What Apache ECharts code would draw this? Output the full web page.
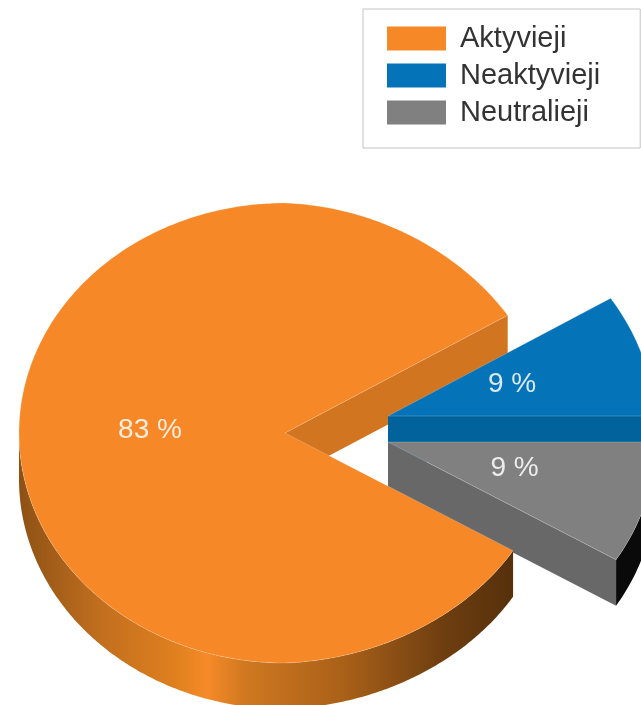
<!DOCTYPE html>
<html>
<head>
<meta charset="utf-8">
<style>
  html, body { margin: 0; padding: 0; background: #fff; }
  #chart { width: 641px; height: 705px; }
</style>
<script src="https://cdn.jsdelivr.net/npm/echarts@6/dist/echarts.min.js"></script>
</head>
<body>
<div id="chart"></div>
<script>
const categories = ['Aktyvieji', 'Neaktyvieji', 'Neutralieji'];
const values = [83, 9, 9];
const colors = ['#f68827', '#0573b8', '#808080'];
const cutColors = ['#d17520', '#02629b', '#686868'];

// pie layout (the pie is flattened to an ellipse)
const cx = 285, cy = 433, rx = 266, ry = 230, depth = 46;
const shift = [[0, 0], [103, -17], [103, 9]];
const labelShift = [[-2, -3], [-3, -1], [-2, -4]];

const total = values.reduce((a, b) => a + b, 0);
const sweeps = values.map(v => v / total * Math.PI * 2);
const slices = [];
let start = sweeps[2];
values.forEach((v, i) => {
    slices.push({ start: start, end: start + sweeps[i] });
    start += sweeps[i];
});

function point(i, t, r, down) {
    // small perspective skew on the right hand side of the pie
    const skew = Math.max(0, Math.cos(t)) * Math.sin(t) * 2 * r;
    return [
        cx + shift[i][0] + rx * r * Math.cos(t) + 3 * skew,
        cy + shift[i][1] + ry * r * Math.sin(t) - 5 * skew + (down || 0)
    ];
}

function arc(i, from, to, down) {
    const pts = [];
    const n = Math.max(2, Math.ceil(Math.abs(to - from) / 0.01));
    for (let k = 0; k <= n; k++) {
        pts.push(point(i, from + (to - from) * k / n, 1, down));
    }
    return pts;
}

function poly(points, fill, z2, extra) {
    return {
        type: 'polygon',
        z2: z2,
        shape: { points: points },
        style: Object.assign({ fill: fill }, extra || {})
    };
}

const edge = { stroke: 'rgba(255,255,255,0.25)', lineWidth: 0.8 };

const wallGradient = new echarts.graphic.LinearGradient(0, 0, 1, 0, [
    { offset: 0, color: '#8d5115' },
    { offset: 0.16, color: '#c06e1e' },
    { offset: 0.32, color: '#e0801f' },
    { offset: 0.38, color: '#f68a28' },
    { offset: 0.46, color: '#cf7820' },
    { offset: 0.66, color: '#a86018' },
    { offset: 0.86, color: '#6e3e10' },
    { offset: 1, color: '#56300b' }
]);

function renderSlice(params, api) {
    const i = params.seriesIndex;
    const s = slices[i];
    const apex = point(i, 0, 0);
    const apexDown = point(i, 0, 0, depth);
    const endTop = point(i, s.end, 1);
    const endDown = point(i, s.end, 1, depth);
    const top = [apex].concat(arc(i, s.start, s.end));
    const children = [];

    // draw order: orange cut face, blue, gray, orange body
    if (i === 0) {
        children.push(poly([apex, endTop, endDown, apexDown], cutColors[i], 1));
        children.push(poly(arc(i, s.start, Math.PI).concat(arc(i, Math.PI, s.start, depth)), wallGradient, 10));
        children.push(poly(top, colors[i], 11, edge));
    } else if (i === 1) {
        children.push(poly([apex, endTop, endDown, apexDown], cutColors[i], 2));
        children.push(poly(top, colors[i], 3, edge));
    } else {
        children.push(poly([apex, endTop, endDown, apexDown], cutColors[i], 4));
        children.push(poly(arc(i, s.start, s.end).concat(arc(i, s.end, s.start, depth)), '#0a0a0a', 5));
        children.push(poly(top, colors[i], 6, edge));
    }

    const lp = point(i, (s.start + s.end) / 2, 0.5);
    children.push({
        type: 'text',
        z2: 20,
        style: {
            x: lp[0] + labelShift[i][0],
            y: lp[1] + labelShift[i][1],
            text: api.value(0) + ' %',
            fill: 'rgba(255,255,255,0.85)',
            font: '28px "Liberation Sans"',
            align: 'center',
            verticalAlign: 'middle'
        }
    });
    return { type: 'group', children: children };
}

const chart = echarts.init(document.getElementById('chart'), null, { renderer: 'canvas' });

chart.setOption({
    animation: false,
    legend: {
        left: 363,
        top: 9,
        orient: 'vertical',
        padding: [15, 40, 21, 24],
        itemGap: 8,
        itemWidth: 59,
        itemHeight: 24,
        borderColor: '#c4c4c4',
        borderWidth: 1,
        backgroundColor: '#fff',
        selectedMode: false,
        textStyle: {
            color: '#333',
            fontFamily: 'Liberation Sans',
            fontSize: 29,
            lineHeight: 24,
            padding: [0, 0, 0, 9]
        },
        data: categories.map((name, i) => ({ name: name, icon: 'rect', itemStyle: { color: colors[i] } }))
    },
    series: categories.map((name, i) => ({
        type: 'custom',
        name: name,
        coordinateSystem: 'none',
        silent: true,
        clip: false,
        itemStyle: { color: colors[i] },
        renderItem: renderSlice,
        data: [[values[i]]]
    }))
});

window.addEventListener('resize', chart.resize);
</script>
</body>
</html>
